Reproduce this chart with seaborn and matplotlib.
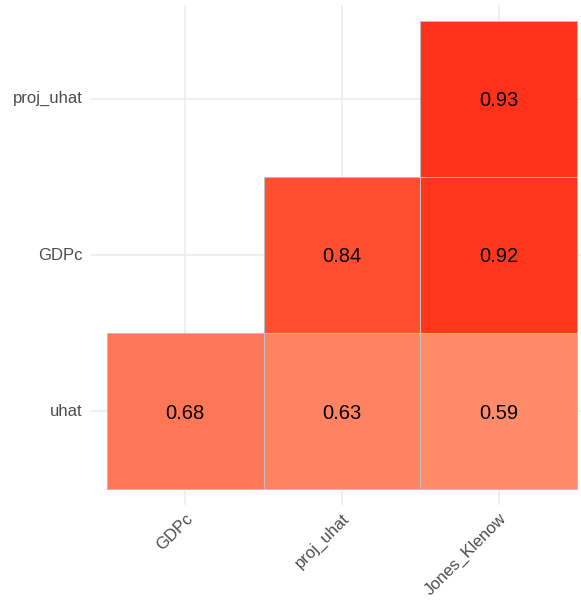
import numpy as np
import pandas as pd
import matplotlib
matplotlib.use("Agg")
import matplotlib.pyplot as plt
from matplotlib.colors import ListedColormap, to_rgba
import seaborn as sns

# correlation values (lower triangle), rows top -> bottom
rows = ["proj_uhat", "GDPc", "uhat"]
cols = ["GDPc", "proj_uhat", "Jones_Klenow"]
row_proj_uhat = [np.nan, np.nan, 0.93]
row_gdpc = [np.nan, 0.84, 0.92]
row_uhat = [0.68, 0.63, 0.59]

corr = pd.DataFrame([row_proj_uhat, row_gdpc, row_uhat], index=rows, columns=cols)


def srgb_to_lab(rgb):
    c = np.array(rgb, dtype=float)
    lin = np.where(c <= 0.04045, c / 12.92, ((c + 0.055) / 1.055) ** 2.4)
    m = np.array([[0.4124, 0.3576, 0.1805],
                  [0.2126, 0.7152, 0.0722],
                  [0.0193, 0.1192, 0.9505]])
    xyz = m @ lin / np.array([0.95047, 1.0, 1.08883])
    f = np.where(xyz > 0.008856, np.cbrt(xyz), 7.787 * xyz + 16 / 116)
    return np.array([116 * f[1] - 16, 500 * (f[0] - f[1]), 200 * (f[1] - f[2])])


def lab_to_srgb(lab):
    L, a, b = lab
    fy = (L + 16) / 116
    fx = fy + a / 500
    fz = fy - b / 200
    f = np.array([fx, fy, fz])
    xyz = np.where(f ** 3 > 0.008856, f ** 3, (f - 16 / 116) / 7.787)
    xyz = xyz * np.array([0.95047, 1.0, 1.08883])
    m = np.array([[3.2406, -1.5372, -0.4986],
                  [-0.9689, 1.8758, 0.0415],
                  [0.0557, -0.2040, 1.0570]])
    lin = np.clip(m @ xyz, 0, 1)
    c = np.where(lin <= 0.0031308, 12.92 * lin, 1.055 * lin ** (1 / 2.4) - 0.055)
    return np.clip(c, 0, 1)


# blue - white - red gradient in Lab space, like ggcorrplot
blue, white, red = srgb_to_lab([0, 0, 1]), srgb_to_lab([1, 1, 1]), srgb_to_lab([1, 0, 0])
ramp = []
for t in np.linspace(0, 1, 512):
    if t < 0.5:
        s = t / 0.5
        ramp.append(lab_to_srgb(blue + (white - blue) * s))
    else:
        s = (t - 0.5) / 0.5
        ramp.append(lab_to_srgb(white + (red - white) * s))
cmap = ListedColormap(ramp)

sns.set_theme(style="whitegrid")
plt.rcParams['font.family'] = ['Liberation Sans', 'DejaVu Sans']

fig = plt.figure(figsize=(5.81, 6), dpi=100)
ax = fig.add_axes([91 / 581, 95 / 600, 502 / 581, 500 / 600])
ax.set_axisbelow(True)

sns.heatmap(corr, ax=ax, cmap=cmap, vmin=-1, vmax=1, cbar=False,
            annot=True, fmt=".2f",
            annot_kws={"color": "black", "size": 14.5, "va": "center_baseline"},
            linewidths=0.6, linecolor="#BEBEBE", square=False)

# no outline on the empty (upper triangle) cells
mesh = ax.collections[0]
edge = np.array([to_rgba("#BEBEBE") if not np.isnan(v) else (0, 0, 0, 0)
                 for v in corr.values.ravel()])
mesh.set_edgecolors(edge)

ax.set_xlim(-0.1, 3.1)
ax.set_ylim(3.1, -0.1)
ax.grid(True, color="#EBEBEB", linewidth=1.1)
for s in ax.spines.values():
    s.set_visible(False)
ax.set_xlabel("")
ax.set_ylabel("")
ax.tick_params(axis="both", length=0, labelsize=12, labelcolor="#4D4D4D")
ax.tick_params(axis="x", pad=4)
ax.tick_params(axis="y", pad=6)
plt.setp(ax.get_xticklabels(), rotation=45, ha="right", va="top", rotation_mode="anchor")
plt.setp(ax.get_yticklabels(), rotation=0)

fig.savefig("out.png", dpi=100)
